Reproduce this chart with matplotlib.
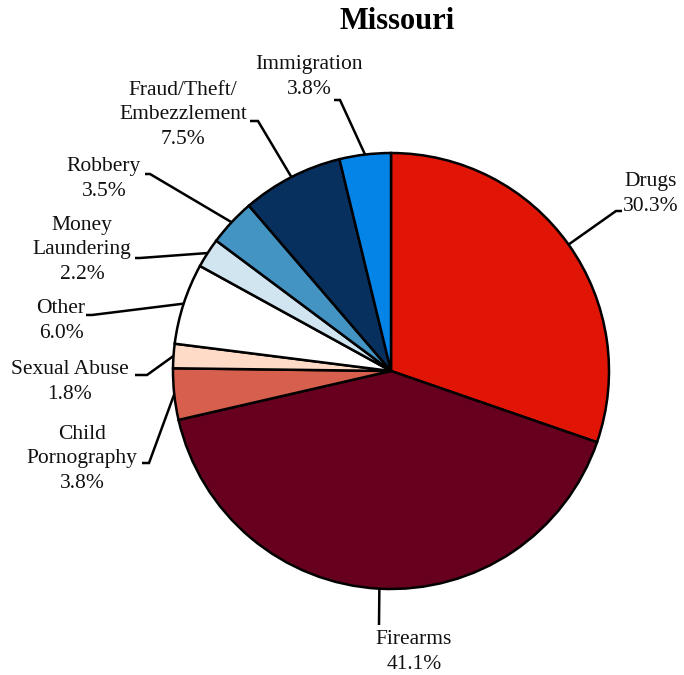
import matplotlib
matplotlib.use("Agg")
import matplotlib.pyplot as plt
import numpy as np

categories = ["Drugs", "Firearms", "Child\nPornography", "Sexual Abuse", "Other",
              "Money\nLaundering", "Robbery", "Fraud/Theft/\nEmbezzlement", "Immigration"]
values = [30.3, 41.1, 3.8, 1.8, 6.0, 2.2, 3.5, 7.5, 3.8]
colors = ["#E01506", "#67001F", "#D6604D", "#FDDBC7", "#FFFFFF",
          "#D1E5F0", "#4393C3", "#08305E", "#0584E8"]

W, H = 684, 675
CX, CY, R = 391, 371, 218

def px(x, y):
    return ((x - CX) / R, (CY - y) / R)

fig = plt.figure(figsize=(W / 100, H / 100), dpi=100)
ax = fig.add_axes([0, 0, 1, 1])

wedges, _ = ax.pie(values, colors=colors, startangle=90, counterclock=False,
                   radius=1.0, center=(0, 0),
                   wedgeprops=dict(edgecolor="black", linewidth=1.8))
ax.set_xlim(-CX / R, (W - CX) / R)
ax.set_ylim(-(H - CY) / R, CY / R)
ax.set_aspect("equal")
ax.axis("off")

font = dict(family="Liberation Serif", fontsize=15.5, color="#111111")

# layout: elbow (px), horizontal end x (px), text center (px)
layout = [
    ((616, 211), 622, (651, 194)),
    ((379, 625), 379, (414, 652)),
    ((149, 463), 142, (82, 459)),
    ((147, 375), 135, (70, 382)),
    ((92, 315), 86, (61, 321)),
    ((140, 258), 135, (82, 250)),
    ((150, 174), 145, (104, 179)),
    ((258, 121), 250, (183, 115)),
    ((340, 100), 334, (309, 77)),
]

for w, cat, v, (elb, hx, tc) in zip(wedges, categories, values, layout):
    ang = np.deg2rad((w.theta1 + w.theta2) / 2)
    sx, sy = np.cos(ang), np.sin(ang)
    ex, ey = px(*elb)
    hxx, _ = px(hx, elb[1])
    ax.plot([sx, ex, hxx], [sy, ey, ey], color="black", lw=1.8,
            solid_capstyle="butt", solid_joinstyle="miter", zorder=1)
    tx, ty = px(*tc)
    ax.text(tx, ty, f"{cat}\n{v:.1f}%", ha="center", va="center",
            linespacing=1.38, **font)

ax.text(*px(397, 22), "Missouri", ha="center", va="center",
        family="Liberation Serif", fontsize=22, fontweight="bold")

fig.savefig("out.png", dpi=100)
